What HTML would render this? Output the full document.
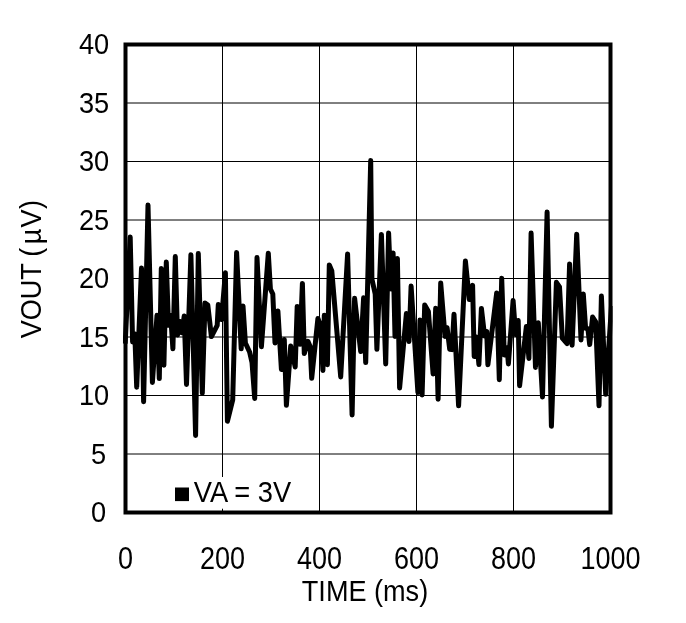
<!DOCTYPE html>
<html><head><meta charset="utf-8"><title>VOUT vs TIME</title>
<style>
html,body{margin:0;padding:0;background:#fff;}
svg{display:block;}
text{font-family:"Liberation Sans",Arial,Helvetica,sans-serif;fill:#000;}
</style></head><body>
<svg width="686" height="623" viewBox="0 0 686 623">
<rect x="0" y="0" width="686" height="623" fill="#fff"/>
<g stroke="#000" stroke-width="1" fill="none">
<line x1="125.50" y1="454.00" x2="610.50" y2="454.00"/>
<line x1="125.50" y1="395.50" x2="610.50" y2="395.50"/>
<line x1="125.50" y1="337.00" x2="610.50" y2="337.00"/>
<line x1="125.50" y1="278.50" x2="610.50" y2="278.50"/>
<line x1="125.50" y1="220.00" x2="610.50" y2="220.00"/>
<line x1="125.50" y1="161.50" x2="610.50" y2="161.50"/>
<line x1="125.50" y1="103.00" x2="610.50" y2="103.00"/>
<line x1="222.50" y1="44.50" x2="222.50" y2="512.50"/>
<line x1="319.50" y1="44.50" x2="319.50" y2="512.50"/>
<line x1="416.50" y1="44.50" x2="416.50" y2="512.50"/>
<line x1="513.50" y1="44.50" x2="513.50" y2="512.50"/>
</g>
<rect x="172" y="477" width="122" height="31.7" fill="#fff"/>
<rect x="175" y="487.5" width="14" height="13.6" fill="#000"/>
<text transform="translate(193.80,501.70) scale(1,1.11)" font-size="27.3" text-anchor="start">VA = 3V</text>
<clipPath id="plotclip"><rect x="122.9" y="42.5" width="489.6" height="472.0"/></clipPath>
<polyline clip-path="url(#plotclip)" points="125.2,343.6 130.2,237.0 132.6,342.0 134.8,334.0 136.7,387.2 141.5,268.0 143.6,401.7 148.0,205.0 152.4,382.4 157.0,315.3 159.3,378.6 161.3,268.6 163.9,365.2 166.3,262.1 168.5,325.3 170.7,315.4 172.9,348.8 175.3,256.5 177.5,335.0 180.0,321.5 181.9,332.8 184.2,316.0 186.5,384.4 190.9,254.7 195.6,435.5 198.3,253.5 202.3,393.2 205.0,303.0 207.8,305.0 211.4,336.6 217.2,325.3 218.3,304.6 221.5,319.5 225.4,272.8 227.4,421.3 232.7,399.9 236.6,252.4 241.2,348.8 243.0,306.0 245.4,343.0 249.6,352.0 252.0,362.4 254.7,398.4 257.0,257.6 261.4,346.7 268.3,253.2 270.4,289.0 272.8,294.0 275.0,343.0 277.9,311.0 281.4,369.4 284.3,339.6 286.4,405.3 290.7,346.0 295.2,367.0 297.2,306.4 300.0,344.3 302.4,283.4 304.3,353.6 307.9,341.3 310.2,346.8 311.7,378.3 317.9,318.4 320.5,325.8 322.9,370.4 324.3,315.3 327.4,364.7 329.3,264.9 331.8,271.0 340.7,376.9 347.6,253.9 352.1,415.0 354.6,298.2 360.7,351.5 363.6,297.8 365.7,362.6 370.7,160.6 371.9,279.0 375.2,294.0 376.9,349.3 381.4,234.4 385.7,363.9 388.6,232.9 390.9,289.0 393.1,252.9 395.0,336.4 397.4,258.6 399.6,387.9 406.4,313.5 409.0,341.4 411.1,286.1 417.9,392.4 420.0,320.0 422.1,395.0 424.7,304.9 428.4,311.4 433.1,373.9 435.7,308.2 438.1,399.3 440.7,282.9 445.0,336.4 447.1,327.8 449.7,349.2 452.0,349.6 454.0,314.2 458.6,405.8 465.4,261.1 469.3,299.6 472.6,285.4 474.2,356.4 476.4,337.0 478.9,364.6 481.4,308.4 484.6,336.0 486.7,331.6 487.9,364.8 496.7,292.9 499.3,379.8 501.7,278.2 504.3,355.0 507.1,347.8 508.4,363.9 513.1,300.4 515.6,334.5 518.2,320.5 519.6,385.8 526.4,326.4 528.9,358.4 531.1,233.0 535.5,367.4 538.3,322.8 542.5,397.0 547.1,212.1 551.4,426.3 556.4,282.3 559.5,286.8 562.3,338.0 567.1,343.5 569.6,263.9 572.1,345.2 576.7,234.2 581.0,339.9 583.3,293.9 585.6,328.3 587.9,328.8 589.7,344.6 592.6,317.1 595.7,321.8 599.0,405.8 601.4,296.1 605.7,394.3 611.5,306.0" fill="none" stroke="#000" stroke-width="5" stroke-linejoin="round" stroke-linecap="butt"/>
<rect x="125.50" y="44.50" width="485.00" height="468.00" fill="none" stroke="#000" stroke-width="4"/>
<text transform="translate(106.10,522.30) scale(1,1.09)" font-size="27.2" text-anchor="end">0</text>
<text transform="translate(106.10,463.80) scale(1,1.09)" font-size="27.2" text-anchor="end">5</text>
<text transform="translate(109.20,405.30) scale(1,1.09)" font-size="27.2" text-anchor="end">10</text>
<text transform="translate(109.20,346.80) scale(1,1.09)" font-size="27.2" text-anchor="end">15</text>
<text transform="translate(109.20,288.30) scale(1,1.09)" font-size="27.2" text-anchor="end">20</text>
<text transform="translate(109.20,229.80) scale(1,1.09)" font-size="27.2" text-anchor="end">25</text>
<text transform="translate(109.20,171.30) scale(1,1.09)" font-size="27.2" text-anchor="end">30</text>
<text transform="translate(109.20,112.80) scale(1,1.09)" font-size="27.2" text-anchor="end">35</text>
<text transform="translate(109.20,54.30) scale(1,1.09)" font-size="27.2" text-anchor="end">40</text>
<text transform="translate(125.50,568.70) scale(1,1.14)" font-size="27" text-anchor="middle">0</text>
<text transform="translate(222.50,568.70) scale(1,1.14)" font-size="27" text-anchor="middle">200</text>
<text transform="translate(319.50,568.70) scale(1,1.14)" font-size="27" text-anchor="middle">400</text>
<text transform="translate(416.50,568.70) scale(1,1.14)" font-size="27" text-anchor="middle">600</text>
<text transform="translate(513.50,568.70) scale(1,1.14)" font-size="27" text-anchor="middle">800</text>
<text transform="translate(610.50,568.70) scale(1,1.14)" font-size="27" text-anchor="middle">1000</text>
<text transform="translate(365.00,600.90) scale(1,1.06)" font-size="27.1" text-anchor="middle">TIME (ms)</text>
<text transform="translate(41.00,338.30) rotate(-90) scale(0.994,1.1)" font-size="27.2" text-anchor="start">VOUT<tspan dx="-0.90"> (</tspan><tspan dx="3.50">µ</tspan><tspan dx="1.00">V</tspan><tspan dx="0.60">)</tspan></text>
</svg>
</body></html>
